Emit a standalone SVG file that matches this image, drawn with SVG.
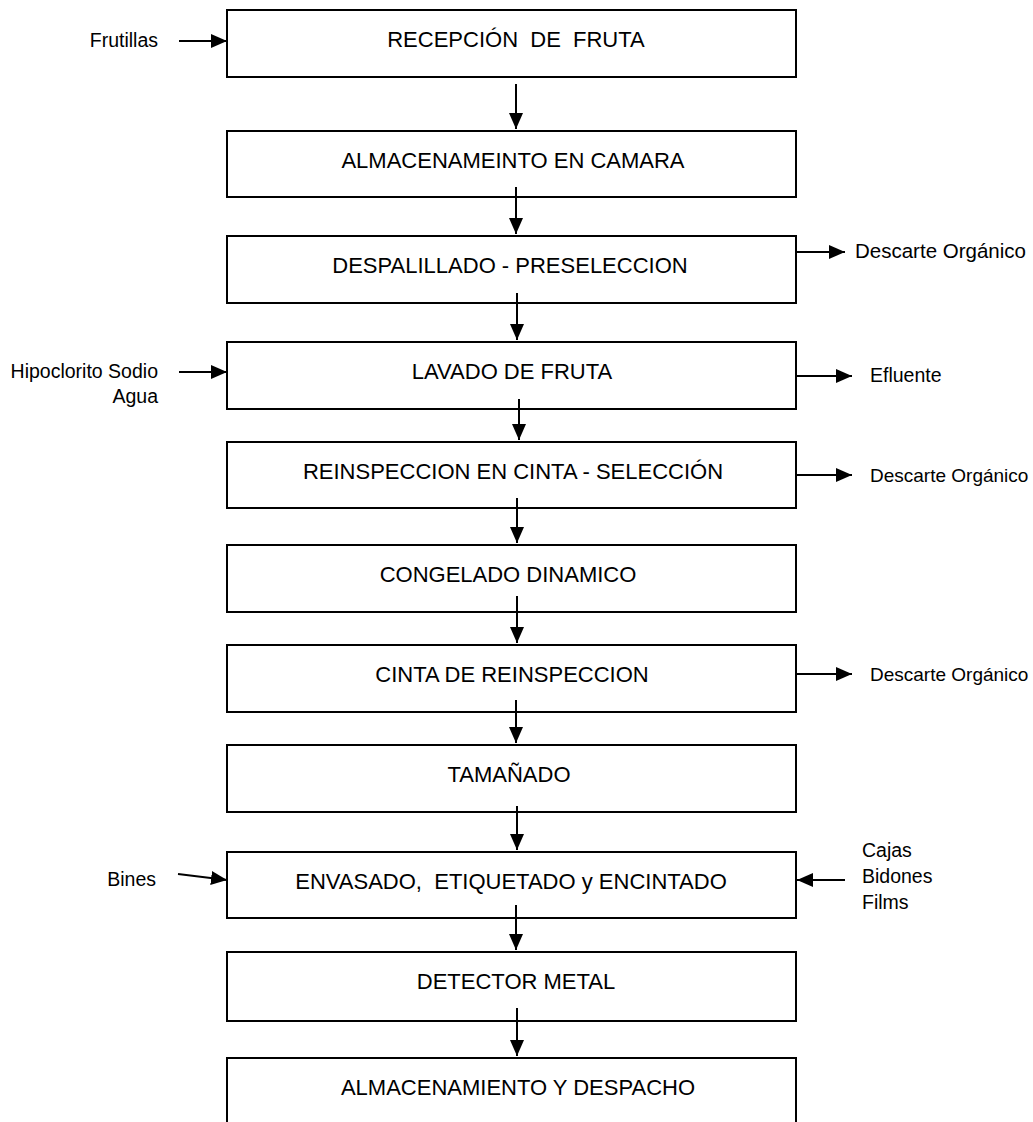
<svg xmlns="http://www.w3.org/2000/svg" width="1033" height="1122" viewBox="0 0 1033 1122">
<defs>
<marker id="ah" markerUnits="userSpaceOnUse" markerWidth="17" markerHeight="15" refX="16" refY="7" orient="auto">
<path d="M0,0 L16,7 L0,14 z" fill="#000"/>
</marker>
<style>
.box{fill:#fff;stroke:#000;stroke-width:2}
.bt{font-family:"Liberation Sans",Arial,sans-serif;font-size:22px;fill:#000;text-anchor:middle;white-space:pre}
.lt{font-family:"Liberation Sans",Arial,sans-serif;font-size:19.5px;fill:#000}
.ltr{font-family:"Liberation Sans",Arial,sans-serif;font-size:19.5px;fill:#000;text-anchor:end}
.c{stroke:#000;stroke-width:2;fill:none;marker-end:url(#ah)}
</style>
</defs>
<rect width="1033" height="1122" fill="#fff"/>
<g id="n1"><rect class="box" x="227" y="10" width="569" height="67"/><text class="bt" x="516" y="47">RECEPCIÓN  DE  FRUTA</text></g>
<g id="n2"><rect class="box" x="227" y="131" width="569" height="66"/><text class="bt" x="513" y="168">ALMACENAMEINTO EN CAMARA</text></g>
<g id="n3"><rect class="box" x="227" y="236" width="569" height="67"/><text class="bt" x="510" y="273">DESPALILLADO - PRESELECCION</text></g>
<g id="n4"><rect class="box" x="227" y="342" width="569" height="67"/><text class="bt" x="512" y="379">LAVADO DE FRUTA</text></g>
<g id="n5"><rect class="box" x="227" y="442" width="569" height="66"/><text class="bt" x="513" y="479">REINSPECCION EN CINTA - SELECCIÓN</text></g>
<g id="n6"><rect class="box" x="227" y="545" width="569" height="67"/><text class="bt" x="508" y="582">CONGELADO DINAMICO</text></g>
<g id="n7"><rect class="box" x="227" y="645" width="569" height="67"/><text class="bt" x="512" y="682">CINTA DE REINSPECCION</text></g>
<g id="n8"><rect class="box" x="227" y="745" width="569" height="67"/><text class="bt" x="509" y="782">TAMAÑADO</text></g>
<g id="n9"><rect class="box" x="227" y="852" width="569" height="66"/><text class="bt" x="511" y="889">ENVASADO,  ETIQUETADO y ENCINTADO</text></g>
<g id="n10"><rect class="box" x="227" y="952" width="569" height="69"/><text class="bt" x="516" y="989">DETECTOR METAL</text></g>
<g id="n11"><rect class="box" x="227" y="1058" width="569" height="90"/><text class="bt" x="518" y="1095">ALMACENAMIENTO Y DESPACHO</text></g>
<g id="labels">
<text class="ltr" x="158" y="47">Frutillas</text>
<text class="ltr" x="158" y="378">Hipoclorito Sodio</text>
<text class="ltr" x="158" y="403">Agua</text>
<text class="ltr" x="156" y="886">Bines</text>
<text class="lt" x="855" y="258" style="font-size:20.5px">Descarte Orgánico</text>
<text class="lt" x="870" y="382">Efluente</text>
<text class="lt" x="870" y="482" style="font-size:19px">Descarte Orgánico</text>
<text class="lt" x="870" y="681" style="font-size:19px">Descarte Orgánico</text>
<text class="lt" x="862" y="857">Cajas</text>
<text class="lt" x="862" y="883">Bidones</text>
<text class="lt" x="862" y="909">Films</text>
</g>
<g id="connectors">
<line class="c" x1="516" y1="84" x2="516" y2="129"/>
<line class="c" x1="516" y1="187" x2="516" y2="234"/>
<line class="c" x1="517" y1="293" x2="517" y2="340"/>
<line class="c" x1="519" y1="399" x2="519" y2="440"/>
<line class="c" x1="517" y1="498" x2="517" y2="543"/>
<line class="c" x1="517" y1="596" x2="517" y2="643"/>
<line class="c" x1="516" y1="700" x2="516" y2="743"/>
<line class="c" x1="517" y1="806" x2="517" y2="850"/>
<line class="c" x1="516" y1="905" x2="516" y2="950"/>
<line class="c" x1="517" y1="1008" x2="517" y2="1056"/>
<line class="c" x1="179" y1="41" x2="227" y2="41"/>
<line class="c" x1="179" y1="372" x2="227" y2="372"/>
<line class="c" x1="178" y1="874" x2="227" y2="880"/>
<line class="c" x1="845" y1="880" x2="797" y2="880"/>
<line class="c" x1="796" y1="252" x2="845" y2="252"/>
<line class="c" x1="796" y1="376" x2="852" y2="376"/>
<line class="c" x1="796" y1="475" x2="852" y2="475"/>
<line class="c" x1="796" y1="674" x2="852" y2="674"/>
</g>
</svg>
